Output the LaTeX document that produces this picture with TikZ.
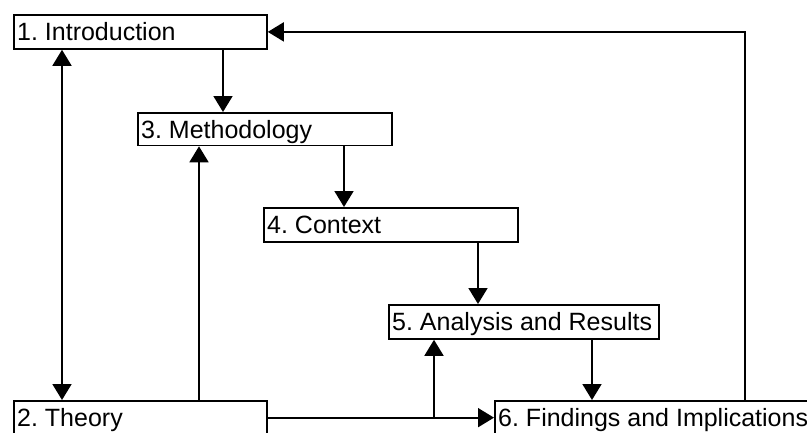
\documentclass[tikz,border=0pt]{standalone}
\usepackage{fontspec}
\setmainfont{Liberation Sans}
\usetikzlibrary{arrows.meta}
\begin{document}
\frenchspacing
\begin{tikzpicture}[x=1pt,y=-1pt,
  box/.style={draw=black, line width=1.8pt, fill=white, anchor=north west,
    inner xsep=3.3pt, inner ysep=0pt,
    text height=17.9pt, text depth=0pt,
    font=\fontsize{25}{30}\selectfont},
  conn/.style={line width=1.8pt, draw=black},
  arr/.style={conn, -{Triangle[length=16pt,width=19pt]}},
  darr/.style={conn, {Triangle[length=16pt,width=19pt]}-{Triangle[length=16pt,width=19pt]}}]
\clip (0,0) rectangle (807,432);
\fill[white] (0,0) rectangle (807,432);

\node[box, minimum height=34pt] (n1) at (13,14) {\makebox[246.4pt][l]{1. Introduction}};
\node[box, minimum height=32.5pt] (n3) at (137,112) {\makebox[247.4pt][l]{3. Methodology}};
\node[box, minimum height=34pt] (n4) at (263,207) {\makebox[247.4pt][l]{4. Context}};
\node[box, minimum height=34pt] (n5) at (388,304) {\makebox[263.4pt][l]{5. Analysis and Results}};
\node[box, minimum height=33.5pt] (n2) at (13,400) {\makebox[246.4pt][l]{2. Theory}};
\node[box, minimum height=33.5pt] (n6) at (494,400) {\makebox[320pt][l]{6. Findings and Implications}};

\coordinate (x13) at (223,0);
\coordinate (x34) at (344,0);
\coordinate (x45) at (478,0);
\coordinate (x56) at (592,0);
\coordinate (x12) at (62,0);
\coordinate (x23) at (199,0);
\coordinate (xbr) at (434,0);
\coordinate (x61) at (745,0);

\draw[arr] (n1.south -| x13) -- (n3.north -| x13);
\draw[arr] (n3.south -| x34) -- (n4.north -| x34);
\draw[arr] (n4.south -| x45) -- (n5.north -| x45);
\draw[arr] (n5.south -| x56) -- (n6.north -| x56);
\draw[darr] (n1.south -| x12) -- (n2.north -| x12);
\draw[arr] (n2.north -| x23) -- (n3.south -| x23);
\draw[arr] (n2.east) -- (n6.west);
\coordinate (br) at (n2.east -| xbr);
\draw[arr] (br) -- (n5.south -| xbr);
\draw[arr] (n6.north -| x61) |- (n1.east);
\end{tikzpicture}
\end{document}
